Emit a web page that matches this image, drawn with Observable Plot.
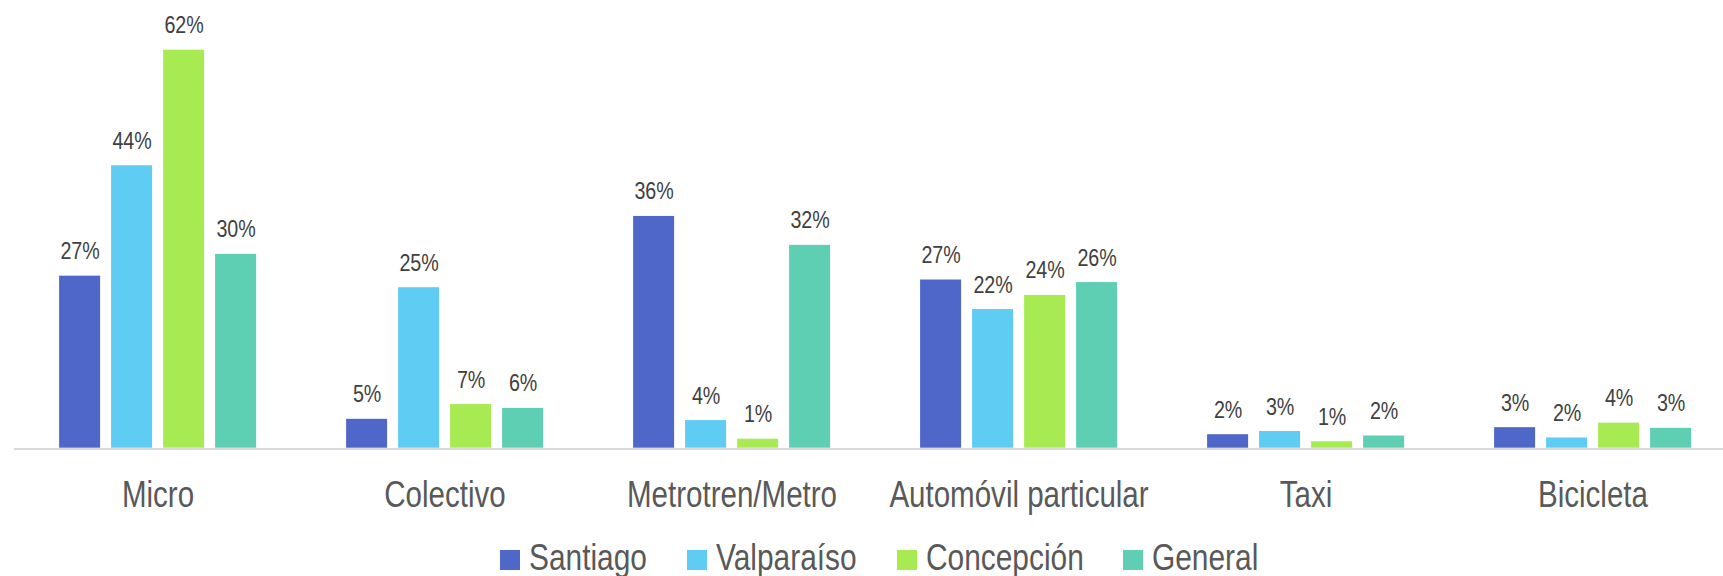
<!DOCTYPE html>
<html><head><meta charset="utf-8">
<script src="https://cdn.jsdelivr.net/npm/d3@7"></script>
<script src="https://cdn.jsdelivr.net/npm/@observablehq/plot@0.6"></script>
<style>
html,body{margin:0;padding:0;background:#fff;overflow:hidden;}
body{width:1723px;height:576px;font-family:"Liberation Sans",Arial,sans-serif;}
#legend{height:36px;line-height:36px;font-size:36px;color:#595959;white-space:nowrap;padding-left:500px;}
.item{display:inline-block;margin-right:40px}
.sw{display:inline-block;width:20px;height:20px;margin-right:9px}
.lt{display:inline-block;transform-origin:0 50%;}
</style></head><body><div id="chart"></div><div id="legend"></div>
<script>
const categories = ["Micro","Colectivo","Metrotren/Metro","Automóvil particular","Taxi","Bicicleta"];
const series = ["Santiago","Valparaíso","Concepción","General"];
const colors = ["#4F67C8","#5FCDF3","#A8EA52","#5ECFB2"];
const santiago   = [26.8, 4.5, 36.1, 26.2, 2.1, 3.2];
const valparaiso = [44.0, 25.0, 4.3, 21.6, 2.6, 1.6];
const concepcion = [62.0, 6.8, 1.4, 23.8, 1.0, 3.9];
const general    = [30.2, 6.2, 31.6, 25.8, 1.9, 3.1];
const santiagoLabels   = ["27%","5%","36%","27%","2%","3%"];
const valparaisoLabels = ["44%","25%","4%","22%","3%","2%"];
const concepcionLabels = ["62%","7%","1%","24%","1%","4%"];
const generalLabels    = ["30%","6%","32%","26%","2%","3%"];

const seriesValues = [santiago, valparaiso, concepcion, general];
const seriesLabels = [santiagoLabels, valparaisoLabels, concepcionLabels, generalLabels];
const rows = [];
categories.forEach((c, i) => series.forEach((s, j) => {
  rows.push({category: c, series: s, value: seriesValues[j][i], label: seriesLabels[j][i]});
}));

const NARROW = 0.82; // emulate a narrow sans face
const LEGEND_NARROW = 0.83;
const FONT = '"Liberation Sans",Arial,sans-serif';
const plot = Plot.plot({
  width: 1723, height: 540,
  marginTop: 0, marginBottom: 540 - 447.7, marginLeft: 11.9, marginRight: 1723 - 1737.6,
  style: {fontFamily: FONT, background: "white"},
  fx: {domain: categories, padding: 0, label: null},
  x: {domain: series, paddingInner: 0.216, paddingOuter: 0.857, axis: null},
  y: {domain: [0, 69.74], axis: null},
  color: {domain: series, range: colors},
  marks: [
    Plot.barY(rows, {fx: "category", x: "series", y: "value", fill: "series"}),
    Plot.ruleY([0], {stroke: "#d9d9d9", strokeWidth: 2, dy: 0.7}),
    Plot.text(rows, {fx: "category", x: "series", y: "value", text: "label", lineAnchor: "bottom", dy: -17, fontSize: 24, fill: "#404040"}),
    Plot.axisFx({anchor: "bottom", tickSize: 0, tickPadding: 33, fontSize: 36, fill: "#595959", label: null})
  ]
});
document.getElementById("chart").appendChild(plot);

plot.querySelectorAll("text").forEach(t => {
  if (!t.textContent) return;
  const w = t.getComputedTextLength();
  if (w > 0) {
    t.setAttribute("textLength", w * NARROW);
    t.setAttribute("lengthAdjust", "spacingAndGlyphs");
  }
});

const legend = document.getElementById("legend");
series.forEach((s, j) => {
  const item = document.createElement("span");
  item.className = "item";
  const sw = document.createElement("span");
  sw.className = "sw";
  sw.style.background = colors[j];
  const lt = document.createElement("span");
  lt.className = "lt";
  lt.textContent = s;
  item.appendChild(sw);
  item.appendChild(lt);
  legend.appendChild(item);
});
legend.querySelectorAll(".lt").forEach(lt => {
  const w = lt.getBoundingClientRect().width;
  lt.style.transform = `scaleX(${LEGEND_NARROW})`;
  lt.style.marginRight = `${-(1 - LEGEND_NARROW) * w}px`;
});
</script></body></html>
